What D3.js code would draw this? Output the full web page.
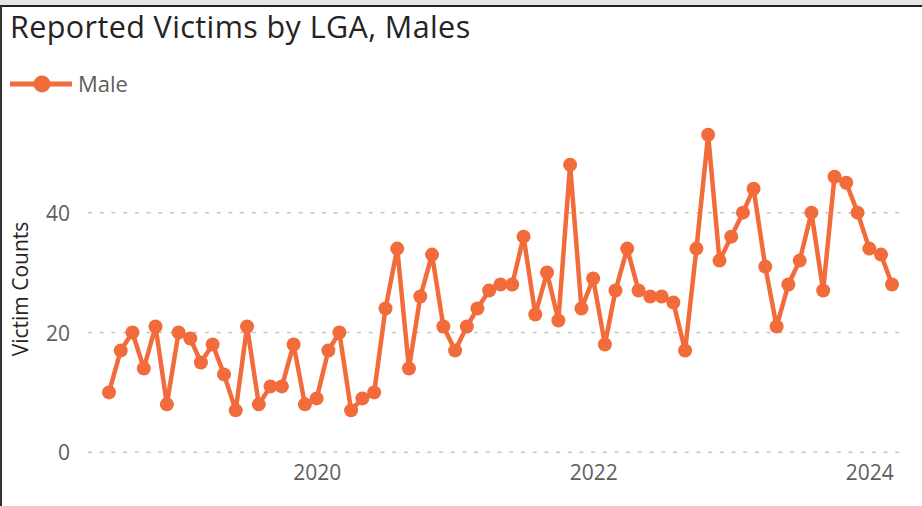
<!DOCTYPE html>
<html>
<head>
<meta charset="utf-8">
<script src="https://cdn.jsdelivr.net/npm/d3@7"></script>
<style>
  html, body { margin: 0; padding: 0; background: #fff; }
  svg { display: block; }
</style>
</head>
<body>
<svg id="chart" width="922" height="506"></svg>
<script>
// Monthly reported male victims, July 2018 – March 2024
const startMonth = "2018-07";
const maleCounts = [
  10, 17, 20, 14, 21, 8,            // 2018 Jul–Dec
  20, 19, 15, 18, 13, 7, 21, 8, 11, 11, 18, 8,   // 2019
  9, 17, 20, 7, 9, 10, 24, 34, 14, 26, 33, 21,   // 2020
  17, 21, 24, 27, 28, 28, 36, 23, 30, 22, 48, 24, // 2021
  29, 18, 27, 34, 27, 26, 26, 25, 17, 34, 53, 32, // 2022
  36, 40, 44, 31, 21, 28, 32, 40, 27, 46, 45, 40, // 2023
  34, 33, 28                                      // 2024 Jan–Mar
];
const yTicks = [0, 20, 40];
const xTickYears = [2020, 2022, 2024];
const seriesName = "Male";

const parseMonth = d3.timeParse("%Y-%m");
const first = parseMonth(startMonth);
const data = maleCounts.map((v, i) => ({ date: d3.timeMonth.offset(first, i), value: v }));

const svg = d3.select("#chart");
const W = 922, H = 506;
const orange = "#f26b3a";
const FONT = "'Open Sans', Roboto, 'Liberation Sans', sans-serif";

// frame
svg.append("rect").attr("x", 0).attr("y", 0).attr("width", W).attr("height", 5).attr("fill", "#e6e6e6");
svg.append("line").attr("x1", 0).attr("x2", W).attr("y1", 6).attr("y2", 6)
  .attr("stroke", "#222").attr("stroke-width", 2);
svg.append("line").attr("x1", 1).attr("x2", 1).attr("y1", 6).attr("y2", H)
  .attr("stroke", "#333").attr("stroke-width", 2);

// title
svg.append("text").attr("x", 10).attr("y", 38)
  .attr("font-family", FONT)
  .attr("font-size", 30.5).attr("letter-spacing", 0.4).attr("fill", "#252423")
  .text("Reported Victims by LGA, Males");

// legend
const lg = svg.append("g");
lg.append("line").attr("x1", 10).attr("x2", 72).attr("y1", 84).attr("y2", 84)
  .attr("stroke", orange).attr("stroke-width", 5);
lg.append("circle").attr("cx", 42).attr("cy", 84).attr("r", 8.5).attr("fill", orange);
lg.append("text").attr("x", 78).attr("y", 92)
  .attr("font-family", FONT)
  .attr("font-size", 22).attr("fill", "#605e5c").text(seriesName);

// scales
const x = d3.scaleTime()
  .domain(d3.extent(data, d => d.date))
  .range([109, 892]);
const y = d3.scaleLinear().domain([0, 55]).range([452.3, 122.8]);

// gridlines
const gridLeft = 88, gridRight = 903;
svg.append("g").selectAll("line").data(yTicks).join("line")
  .attr("x1", gridLeft).attr("x2", gridRight)
  .attr("y1", d => y(d)).attr("y2", d => y(d))
  .attr("stroke", "#c8c6c4").attr("stroke-width", 1.5)
  .attr("stroke-dasharray", "4,7.7");

// y axis
const yAxis = svg.append("g").attr("transform", "translate(70,0)")
  .call(d3.axisLeft(y).tickValues(yTicks).tickSize(0).tickPadding(0));
yAxis.select(".domain").remove();
yAxis.selectAll("text")
  .attr("font-family", FONT)
  .attr("font-size", 21).attr("fill", "#605e5c").attr("dy", "0.36em");

svg.append("text")
  .attr("transform", "translate(28,289) rotate(-90)")
  .attr("text-anchor", "middle")
  .attr("font-family", FONT)
  .attr("font-size", 21).attr("fill", "#252423")
  .text("Victim Counts");

// x axis
const xAxis = svg.append("g").attr("transform", "translate(0,465)")
  .call(d3.axisBottom(x)
    .tickValues(xTickYears.map(yr => new Date(yr, 0, 1)))
    .tickFormat(d3.timeFormat("%Y")).tickSize(0).tickPadding(0));
xAxis.select(".domain").remove();
xAxis.selectAll("text")
  .attr("font-family", FONT)
  .attr("font-size", 21).attr("fill", "#605e5c").attr("dy", "0.71em");

// series
const line = d3.line().x(d => x(d.date)).y(d => y(d.value));
svg.append("path").datum(data)
  .attr("d", line).attr("fill", "none")
  .attr("stroke", orange).attr("stroke-width", 4.5)
  .attr("stroke-linejoin", "round");
svg.append("g").selectAll("circle").data(data).join("circle")
  .attr("cx", d => x(d.date)).attr("cy", d => y(d.value))
  .attr("r", 7).attr("fill", orange);
</script>
</body>
</html>
